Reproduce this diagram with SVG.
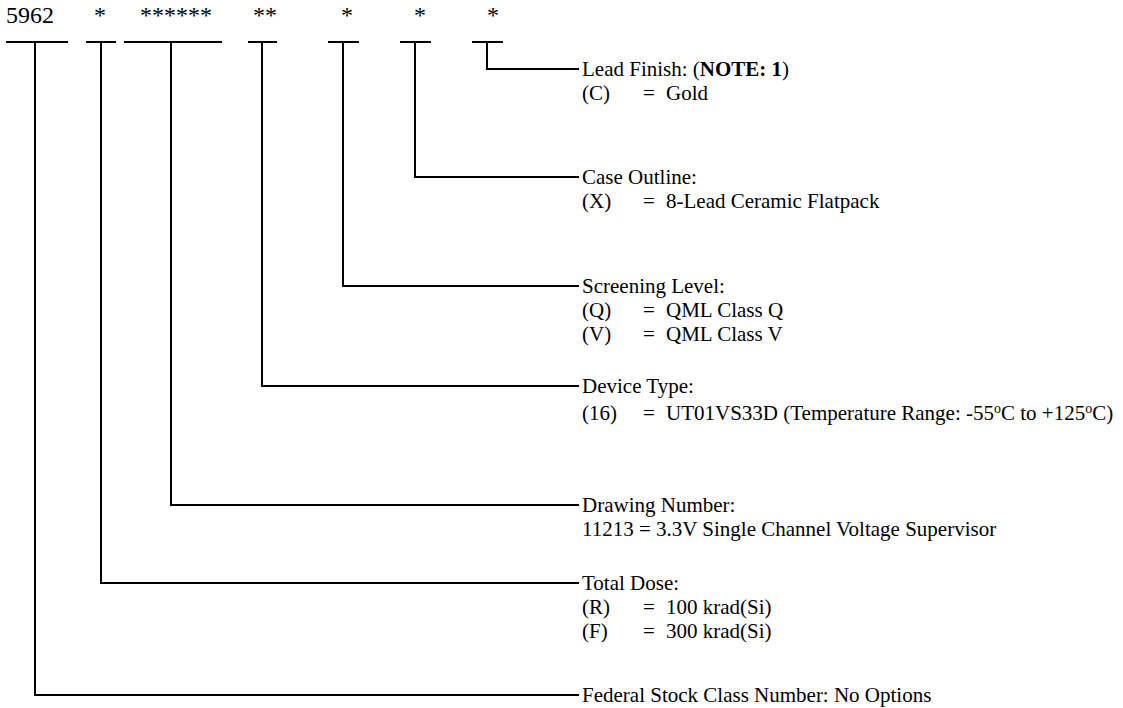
<svg xmlns="http://www.w3.org/2000/svg" width="1123" height="708" viewBox="0 0 1123 708">
<style>
text{font-family:"Liberation Serif","Times New Roman",serif;fill:#000}
.top{font-size:24px}
.t{font-size:21px}
.b{font-weight:bold}
.sup{font-size:14px}
.ln{stroke:#000;stroke-width:2;fill:none}
</style>
<rect width="1123" height="708" fill="#fff"/>
<g id="code">
<text class="top" x="6" y="23">5962</text>
<text class="top" x="94" y="23">*</text>
<text class="top" x="140" y="23">******</text>
<text class="top" x="253" y="23">**</text>
<text class="top" x="341" y="23">*</text>
<text class="top" x="414" y="23">*</text>
<text class="top" x="487" y="23">*</text>
</g>
<g id="connectors" class="ln">
<path d="M6 42H68M35 42V695H579"/>
<path d="M86 42H116M101 42V583H579"/>
<path d="M124 42H222M171 42V505H579"/>
<path d="M248 42H277M262 42V386H579"/>
<path d="M328 42H359M343 42V286H579"/>
<path d="M400 42H431M415 42V177H579"/>
<path d="M472 42H503M487 42V69H579"/>
</g>
<g id="lead-finish" class="t">
<text x="582" y="76">Lead Finish: (<tspan class="b">NOTE: 1</tspan>)</text>
<text x="582" y="100">(C)</text><text x="643" y="100">=</text><text x="666" y="100">Gold</text>
</g>
<g id="case-outline" class="t">
<text x="582" y="184">Case Outline:</text>
<text x="582" y="208">(X)</text><text x="643" y="208">=</text><text x="666" y="208">8-Lead Ceramic Flatpack</text>
</g>
<g id="screening-level" class="t">
<text x="582" y="293">Screening Level:</text>
<text x="582" y="317">(Q)</text><text x="643" y="317">=</text><text x="666" y="317">QML Class Q</text>
<text x="582" y="341">(V)</text><text x="643" y="341">=</text><text x="666" y="341">QML Class V</text>
</g>
<g id="device-type" class="t">
<text x="582" y="393">Device Type:</text>
<text x="582" y="420">(16)</text><text x="643" y="420">=</text><text x="666" y="420">UT01VS33D (Temperature Range: -55<tspan class="sup" dy="-7">o</tspan><tspan dy="7">C to +125</tspan><tspan class="sup" dy="-7">o</tspan><tspan dy="7">C)</tspan></text>
</g>
<g id="drawing-number" class="t">
<text x="582" y="512">Drawing Number:</text>
<text x="582" y="536">11213 = 3.3V Single Channel Voltage Supervisor</text>
</g>
<g id="total-dose" class="t">
<text x="582" y="590">Total Dose:</text>
<text x="582" y="614">(R)</text><text x="643" y="614">=</text><text x="666" y="614">100 krad(Si)</text>
<text x="582" y="638">(F)</text><text x="643" y="638">=</text><text x="666" y="638">300 krad(Si)</text>
</g>
<g id="federal-stock" class="t">
<text x="582" y="702">Federal Stock Class Number: No Options</text>
</g>
</svg>
